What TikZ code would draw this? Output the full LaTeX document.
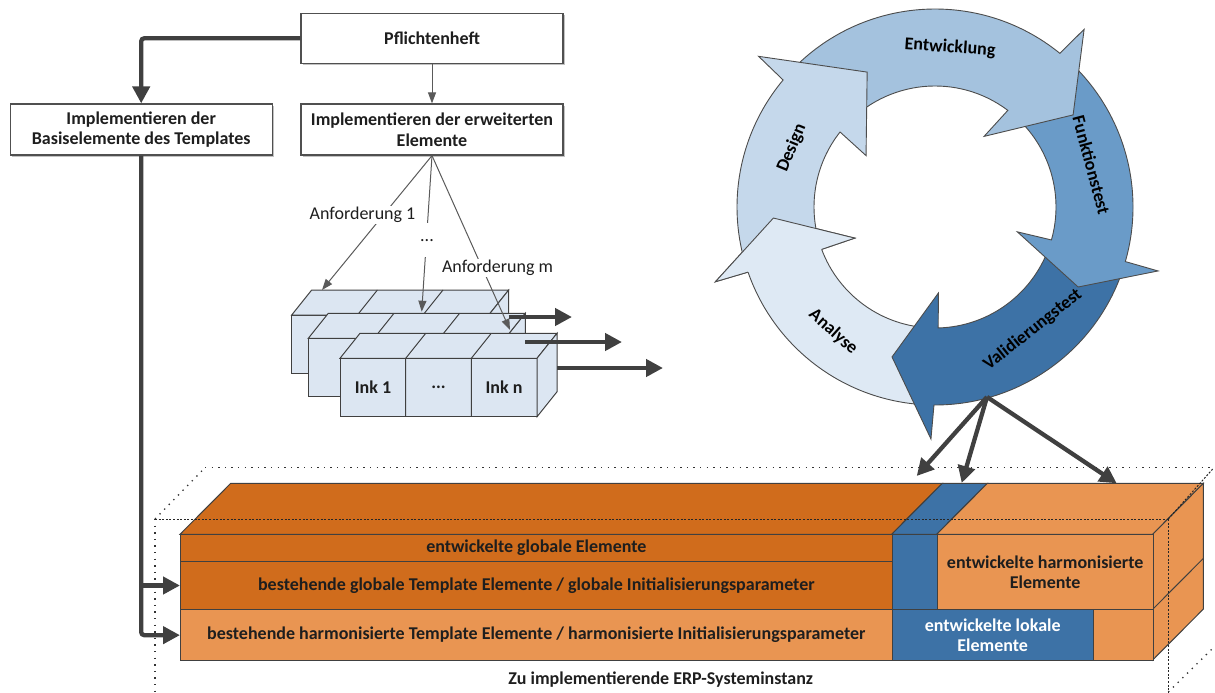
\documentclass[tikz,border=0pt]{standalone}
\usepackage{fontspec}
\setmainfont{Carlito}
\usetikzlibrary{arrows.meta,shadows,calc}
\definecolor{arrowgray}{RGB}{64,64,64}
\definecolor{thingray}{RGB}{90,90,90}
\definecolor{boxline}{RGB}{80,80,80}
\definecolor{slabfill}{RGB}{220,230,242}
\definecolor{cD}{RGB}{197,216,235}
\definecolor{cE}{RGB}{164,194,222}
\definecolor{cF}{RGB}{106,155,200}
\definecolor{cV}{RGB}{61,114,166}
\definecolor{cA}{RGB}{222,233,244}
\definecolor{dorange}{RGB}{208,108,28}
\definecolor{lorange}{RGB}{233,149,82}
\definecolor{cblue}{RGB}{61,114,166}
\definecolor{txtdark}{RGB}{30,30,30}
\newcommand{\dfont}{\fontsize{18}{20.5}\selectfont}
\tikzset{
  box/.style={draw=boxline, line width=1.2pt, fill=white, align=center,
    font=\dfont\bfseries, text=txtdark, inner sep=0pt,
    drop shadow={shadow xshift=2pt, shadow yshift=-2pt, fill=black!40, opacity=0.6}},
  thickconn/.style={draw=arrowgray, line width=4.3pt, -{Triangle[length=17pt,width=17pt]}},
  thinconn/.style={draw=thingray, line width=1pt, -{Triangle[length=11pt,width=8pt]}},
  slabline/.style={draw=arrowgray, line width=1pt, fill=slabfill},
  lab/.style={fill=white, inner sep=1.5pt, font=\dfont, text=txtdark},
  slabtxt/.style={font=\dfont\bfseries, text=txtdark},
  cycline/.style={draw=black!70, line width=0.9pt},
  cyctxt/.style={font=\dfont\bfseries, text=black},
  cell/.style={draw=arrowgray, line width=1pt, inner sep=0pt, anchor=north west,
    font=\dfont\bfseries, text=txtdark, align=center},
  sparsedot/.style={draw=black!80, line width=1.3pt, dash pattern=on 1.3pt off 5.3pt},
  densedot/.style={draw=black!85, line width=1pt, dash pattern=on 2pt off 1.6pt},
}
\newcommand{\slabshape}[2]{%
  \begin{scope}[shift={(#1,#2)}]
    \filldraw[slabline] (0,0) rectangle (197,58.5);
    \filldraw[slabline] (0,0) -- (20,-25) -- (217,-25) -- (197,0) -- cycle;
    \filldraw[slabline] (197,0) -- (217,-25) -- (217,33.5) -- (197,58.5) -- cycle;
    \draw[slabline] (65.7,0) -- (65.7,58.5) (131.3,0) -- (131.3,58.5)
      (65.7,0) -- (85.7,-25) (131.3,0) -- (151.3,-25);
  \end{scope}}
% color, tail, base-out, barb-out, tip angle, tip radius, barb-in, base-in
\newcommand{\cycarrow}[8]{%
  \filldraw[cycline, fill=#1] (#2:198) arc[start angle=#2, end angle=#3, radius=198]
    -- (#4:232) -- (#5:#6) -- (#7:86) -- (#8:121)
    arc[start angle=#8, end angle=#2, radius=121] -- cycle;}
\begin{document}
\begin{tikzpicture}[x=1pt,y=-1pt]
\useasboundingbox (0,0) rectangle (1215,693);

% ---------- top boxes ----------
\node[box, minimum width=262pt, minimum height=50pt] (pf) at (432,38.3) {Pflichtenheft};
\node[box, minimum width=262pt, minimum height=51pt] (lb) at (141.2,129.5) {Implementieren der\\Basiselemente des Templates};
\node[box, minimum width=262pt, minimum height=51pt] (rb) at (432,129.5) {Implementieren der erweiterten\\Elemente};

\draw[thickconn, rounded corners=3pt] (pf.west) -| (lb.north);
\draw[thinconn] (pf.south) -- (rb.north);

% ---------- slabs ----------
\slabshape{291.7}{315}
\slabshape{308.3}{338.3}
\slabshape{340}{358.3}
\node[slabtxt] (ink1) at (373,387.5) {Ink 1};
\node[slabtxt] (inkd) at (438.5,387) {...};
\node[slabtxt] (inkn) at (504,387.5) {Ink n};

\coordinate (t1) at (322,290);
\coordinate (t2) at (421.7,311.7);
\coordinate (t3) at (510,330);
\draw[thinconn] (rb.south) -- (t1);
\draw[thinconn] (rb.south) -- (t2);
\draw[thinconn] (rb.south) -- (t3);
\node[lab] (a1) at (362.5,215) {Anforderung 1};
\node[fill=white, inner sep=0pt, minimum height=34pt, font=\dfont, text=txtdark] (dots) at (427,240) {\raisebox{-3pt}{...}};
\node[lab] (am) at (497.5,268) {Anforderung m};

% slab output arrows
\coordinate (s1) at (508.7,317);  \coordinate (e1) at (572,317);
\coordinate (s2) at (525.3,342);  \coordinate (e2) at (622,342);
\coordinate (s3) at (557,368);    \coordinate (e3) at (663,368);
\draw[thickconn] (s1) -- (e1);
\draw[thickconn] (s2) -- (e2);
\draw[thickconn] (s3) -- (e3);

% ---------- cycle ----------
\begin{scope}[shift={(935,207)}, y=1pt]
  \cycarrow{cA}{268}{199.2}{198.8}{183.9}{162}{201.2}{200.5}
  \cycarrow{cV}{-17.5}{-90.3}{-91}{-106}{156}{-87.7}{-88.5}
  \cycarrow{cF}{49.5}{-16}{-16}{-29.2}{164}{-16.8}{-15.8}
  \cycarrow{cE}{138.5}{50.9}{50}{33.7}{166}{55.2}{53}
  \cycarrow{cD}{197.5}{140.1}{139.5}{116.7}{151}{143.3}{141.7}
  \fill[cA] (199.2:198) -- (198.8:232) -- (183.9:162) -- (201.2:86) -- (200.5:121) -- cycle;
  \draw[cycline] (199.2:198) -- (198.8:232) -- (183.9:162) -- (201.2:86) -- (200.5:121);
  \node[cyctxt, rotate=67.6] (tD) at (157.6:155) {Design};
  \node[cyctxt, rotate=-4] (tE) at (84.6:160) {Entwicklung};
  \node[cyctxt, rotate=-75] (tF) at (15:162) {Funktionstest};
  \node[cyctxt, rotate=38.5] (tV) at (-51.5:157) {Validierungstest};
  \node[cyctxt, rotate=-42] (tA) at (230.8:161) {Analyse};
\end{scope}

% ---------- bottom bar ----------
\filldraw[draw=arrowgray, line width=1pt, fill=dorange] (180,534.3) -- (230.7,483.3) -- (942.4,483.3) -- (891.7,534.3) -- cycle;
\filldraw[draw=arrowgray, line width=1pt, fill=cblue] (891.7,534.3) -- (942.4,483.3) -- (987.4,483.3) -- (936.7,534.3) -- cycle;
\filldraw[draw=arrowgray, line width=1pt, fill=lorange] (936.7,534.3) -- (987.4,483.3) -- (1203.4,483.3) -- (1152.7,534.3) -- cycle;
\filldraw[draw=arrowgray, line width=1pt, fill=lorange] (1152.7,534.3) -- (1203.4,483.3) -- (1203.4,609) -- (1152.7,660) -- cycle;
\draw[draw=arrowgray, line width=1pt] (1152.7,609.3) -- (1203.4,558.3);
\node[cell, fill=dorange, minimum width=711.7pt, minimum height=26.4pt] (r1) at (180,534.3) {entwickelte globale Elemente};
\node[cell, fill=dorange, minimum width=711.7pt, minimum height=48.6pt] (r2) at (180,560.7) {bestehende globale Template Elemente / globale Initialisierungsparameter};
\node[cell, fill=cblue, minimum width=45pt, minimum height=75pt] (bl1) at (891.7,534.3) {};
\node[cell, fill=lorange, minimum width=216pt, minimum height=75pt] (hm) at (936.7,534.3) {entwickelte harmonisierte\\Elemente};
\node[cell, fill=lorange, minimum width=711.7pt, minimum height=50.7pt] (r3) at (180,609.3) {bestehende harmonisierte Template Elemente / harmonisierte Initialisierungsparameter};
\node[cell, fill=cblue, minimum width=201pt, minimum height=50.7pt, text=white] (lok) at (891.7,609.3) {entwickelte lokale\\Elemente};
\node[cell, fill=lorange, minimum width=60pt, minimum height=50.7pt] (lr) at (1092.7,609.3) {};

\node[font=\dfont\bfseries, text=txtdark] (erp) at (660.7,680) {Zu implementierende ERP-Systeminstanz};

% dotted wireframe
\draw[sparsedot] (205,467.7) -- (1213,467.7);
\draw[sparsedot] (155,519) -- (205,467.7);
\draw[sparsedot] (155,519) -- (155,693);
\draw[sparsedot] (1168.3,692) -- (1213,648);
\draw[densedot] (155,519) -- (1168.3,519);
\draw[densedot] (1168.3,519) -- (1168.3,693);
\draw[densedot] (1168.3,519) -- (1213.3,468.3);

% left connector to bar
\draw[thickconn, rounded corners=3pt] (lb.south) |- (r3.west);
\draw[thickconn] (lb.south |- r2.west) -- (r2.west);

% cycle to bar
\coordinate (vsrc) at (987,397);
\coordinate (b1) at (916.7,476);
\coordinate (b2) at (961.7,483);
\coordinate (b3) at (1116.7,483.3);
\draw[thickconn] (vsrc) -- (b1);
\draw[thickconn] (vsrc) -- (b2);
\draw[thickconn] (vsrc) -- (b3);
\end{tikzpicture}
\end{document}
